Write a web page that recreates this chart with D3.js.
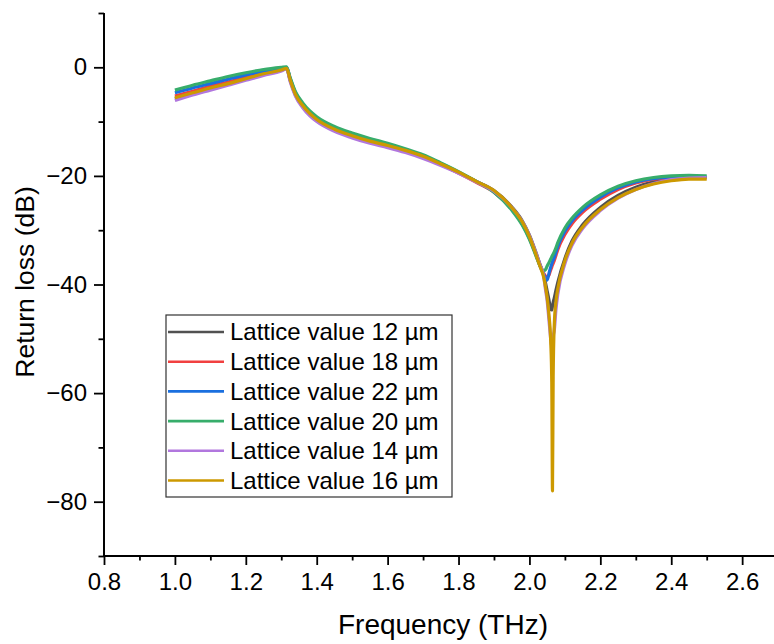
<!DOCTYPE html>
<html>
<head>
<meta charset="utf-8">
<script src="https://cdn.jsdelivr.net/npm/d3@7"></script>
<style>
  body { margin: 0; background: #fff; }
  text { font-family: Arial, "Liberation Sans", sans-serif; fill: #000; }
</style>
</head>
<body>
<svg id="chart" width="774" height="644"></svg>
<script>
// frequency grid (THz), shared by all series
var freq = [1.00, 1.05, 1.10, 1.15, 1.20, 1.25, 1.30,
  1.315, 1.325, 1.34, 1.36, 1.38, 1.40,
  1.45, 1.50, 1.55, 1.60, 1.65, 1.70, 1.75, 1.80, 1.85, 1.90, 1.95,
  1.98, 2.00, 2.02, 2.03, 2.04,
  2.045, 2.05, 2.055, 2.06, 2.063, 2.065, 2.067, 2.07, 2.075, 2.08,
  2.10, 2.12, 2.15, 2.20, 2.25, 2.30, 2.35, 2.40, 2.45, 2.50];

// return loss (dB) per lattice value
var rl12 = [-5.8, -4.9, -4.0, -3.1, -2.2, -1.3, -0.6,
  -0.2, -2.4, -5.1, -7.2, -8.7, -9.8,
  -11.6, -12.8, -13.8, -14.6, -15.5, -16.6, -17.9, -19.4, -21.0, -22.7, -25.7,
  -28.3, -30.9, -34.4, -36.3, -38.2,
  -39.6, -41.2, -42.8, -44.5, -44.7, -44.0, -43.3, -42.5, -41.0, -39.6,
  -35.2, -32.0, -29.0, -25.8, -23.6, -22.1, -21.1, -20.5, -20.3, -20.3];
var rl18 = [-5.3, -4.4, -3.5, -2.7, -1.8, -1.0, -0.4,
  -0.1, -2.2, -4.9, -6.9, -8.4, -9.5,
  -11.3, -12.5, -13.5, -14.4, -15.4, -16.5, -17.9, -19.5, -21.2, -23.0, -26.1,
  -28.8, -31.4, -34.7, -36.5, -37.9,
  -38.4, -38.6, -38.3, -37.3, -36.8, -36.4, -36.1, -35.6, -34.6, -33.6,
  -30.8, -28.8, -26.7, -24.3, -22.5, -21.3, -20.6, -20.3, -20.2, -20.3];
var rl22 = [-4.7, -3.8, -3.0, -2.2, -1.4, -0.7, -0.2,
  0.0, -2.0, -4.7, -6.7, -8.2, -9.3,
  -11.1, -12.3, -13.3, -14.2, -15.2, -16.3, -17.7, -19.3, -21.0, -22.9, -26.1,
  -28.9, -31.5, -34.8, -36.6, -38.1,
  -38.8, -39.2, -38.0, -36.8, -36.2, -35.8, -35.5, -35.0, -34.0, -33.0,
  -30.2, -28.3, -26.3, -23.9, -22.2, -21.1, -20.5, -20.2, -20.1, -20.2];
var rl20 = [-4.2, -3.3, -2.5, -1.7, -1.0, -0.4, 0.0,
  0.1, -1.9, -4.5, -6.5, -8.0, -9.1,
  -10.9, -12.1, -13.1, -14.0, -15.0, -16.1, -17.6, -19.2, -21.0, -23.0, -26.3,
  -29.1, -31.7, -35.0, -36.6, -37.5,
  -37.3, -36.6, -36.0, -35.3, -34.9, -34.6, -34.4, -34.0, -33.2, -32.3,
  -29.6, -27.8, -25.8, -23.5, -21.9, -20.9, -20.3, -20.0, -19.9, -20.0];
var rl14 = [-6.1, -5.1, -4.2, -3.3, -2.4, -1.5, -0.7,
  -0.3, -2.6, -5.3, -7.4, -8.9, -10.0,
  -11.8, -13.0, -14.0, -14.8, -15.7, -16.8, -18.1, -19.5, -21.1, -22.8, -25.8,
  -28.4, -31.0, -34.5, -36.4, -38.4,
  -40.8, -43.0, -46.5, -50.0, -51.5, -51.0, -49.5, -48.5, -44.5, -41.8,
  -36.2, -32.8, -29.7, -26.4, -24.1, -22.5, -21.4, -20.7, -20.4, -20.3];
var rl16 = [-5.6, -4.7, -3.8, -3.0, -2.1, -1.2, -0.5,
  -0.2, -2.3, -5.0, -7.0, -8.5, -9.6,
  -11.4, -12.6, -13.6, -14.4, -15.3, -16.4, -17.8, -19.3, -21.0, -22.7, -25.8,
  -28.5, -31.2, -34.8, -36.7, -38.6,
  -40.3, -42.4, -45.5, -50.5, -58.0, -78.0, -57.0, -47.5, -43.0, -40.8,
  -35.6, -32.4, -29.4, -26.2, -24.0, -22.5, -21.5, -20.9, -20.6, -20.6];

var seriesNames = ["Lattice value 12 \u00b5m", "Lattice value 18 \u00b5m", "Lattice value 22 \u00b5m",
  "Lattice value 20 \u00b5m", "Lattice value 14 \u00b5m", "Lattice value 16 \u00b5m"];
var seriesValues = [rl12, rl18, rl22, rl20, rl14, rl16];
var colors = ["#515151", "#F14040", "#1A6FDF", "#37AD6B", "#B177DE", "#CC9900"];

var xMajor = [0.8, 1.0, 1.2, 1.4, 1.6, 1.8, 2.0, 2.2, 2.4, 2.6];
var xMinor = [0.9, 1.1, 1.3, 1.5, 1.7, 1.9, 2.1, 2.3, 2.5];
var yMajor = [-80, -60, -40, -20, 0];
var yMinor = [-90, -70, -50, -30, -10, 10];

var svg = d3.select("#chart");

var x = d3.scaleLinear().domain([0.8, 2.7]).range([104, 777.6]);
var y = d3.scaleLinear().domain([-90, 10]).range([556, 13]);

// curves, first legend entry drawn first
var line = d3.line()
  .curve(d3.curveMonotoneX)
  .x(function(d) { return x(d[0]); })
  .y(function(d) { return y(d[1]); });

svg.append("g")
  .selectAll("path")
  .data(seriesValues)
  .enter()
  .append("path")
  .attr("fill", "none")
  .attr("stroke", function(d, i) { return colors[i]; })
  .attr("stroke-width", 3.2)
  .attr("stroke-linejoin", "round")
  .attr("d", function(vals) { return line(freq.map(function(f, j) { return [f, vals[j]]; })); });

// axes
var xAxis = svg.append("g").attr("transform", "translate(0,556)");
xAxis.call(d3.axisBottom(x).tickValues(xMinor).tickSize(4.5).tickFormat(""));
xAxis.append("g").call(d3.axisBottom(x).tickValues(xMajor).tickSize(9).tickPadding(8).tickFormat(d3.format(".1f")));

var yAxis = svg.append("g").attr("transform", "translate(104,0)");
yAxis.call(d3.axisLeft(y).tickValues(yMinor).tickSize(5.5).tickFormat(""));
yAxis.append("g").call(d3.axisLeft(y).tickValues(yMajor).tickSize(10).tickPadding(7));

svg.selectAll(".domain").attr("stroke", "#000").attr("stroke-width", 1.8);
svg.selectAll(".tick line").attr("stroke", "#000").attr("stroke-width", 1.8);
svg.selectAll(".tick text").style("font-size", "24px").attr("fill", "#000");
// plain axis lines without end caps
xAxis.selectAll(".domain").attr("d", "M104,0H778");
yAxis.selectAll(".domain").attr("d", "M0,13V556");

// axis titles
svg.append("text")
  .attr("x", 443)
  .attr("y", 634)
  .attr("text-anchor", "middle")
  .style("font-size", "28px")
  .text("Frequency (THz)");

svg.append("text")
  .attr("transform", "translate(34,282) rotate(-90)")
  .attr("text-anchor", "middle")
  .style("font-size", "26.5px")
  .text("Return loss (dB)");

// legend
var legend = svg.append("g").attr("transform", "translate(166,315)");

legend.append("rect")
  .attr("x", 0)
  .attr("y", 0)
  .attr("width", 286)
  .attr("height", 182)
  .attr("fill", "#fff")
  .attr("stroke", "#333")
  .attr("stroke-width", 1.2);

var item = legend.selectAll(".item")
  .data(seriesNames)
  .enter()
  .append("g")
  .attr("class", "item")
  .attr("transform", function(d, i) { return "translate(0," + (17 + i * 29.7) + ")"; });

item.append("line")
  .attr("x1", 2)
  .attr("x2", 58)
  .attr("stroke", function(d, i) { return colors[i]; })
  .attr("stroke-width", 2.6);

item.append("text")
  .attr("x", 64)
  .attr("dy", "0.35em")
  .style("font-size", "24px")
  .text(function(d) { return d; });
</script>
</body>
</html>
